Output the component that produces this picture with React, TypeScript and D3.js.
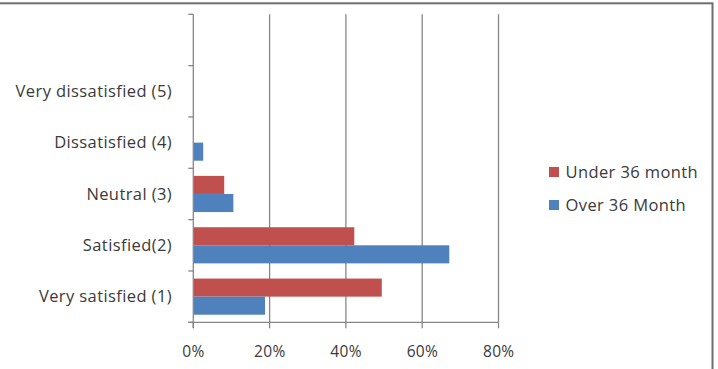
import React from "react";
import * as d3 from "d3";

const categories = ["", "Very dissatisfied (5)", "Dissatisfied (4)", "Neutral (3)", "Satisfied(2)", "Very satisfied (1)"];
const seriesNames = ["Under 36 month", "Over 36 Month"];
const under36 = [null, 0, 0, 8.1, 42.2, 49.4];
const over36 = [null, 0, 2.6, 10.5, 67.1, 18.8];
const xTicks = [0, 20, 40, 60, 80];
const colors = ["#C0504D", "#4F81BD"];

export default function App() {
  const W = 718, H = 369;
  const x = d3.scaleLinear().domain([0, 80]).range([193.3, 498.5]);
  const y = d3.scaleBand().domain(categories).range([14.3, 322.3]).paddingInner(0).paddingOuter(0);
  const sub = d3.scaleBand().domain(seriesNames).range([0, y.bandwidth()]).paddingOuter(0.42).paddingInner(0);
  const series = [under36, over36];
  const font = "'Open Sans', sans-serif";
  const grey = "#868686";
  const txt = "#3a3a3a";
  return (
    <svg width={W} height={H} style={{ position: "absolute", left: 0, top: 0, background: "#fff" }}>
      <rect x={-3} y={3.3} width={715.5} height={380} fill="#fff" stroke="#6e6e6e" strokeWidth={2} />
      {xTicks.slice(1).map((t) => (
        <line key={t} x1={x(t)} x2={x(t)} y1={y.range()[0]} y2={y.range()[1]} stroke={grey} strokeWidth={1.3} />
      ))}
      {categories.map((c, i) => (
        <g key={i}>
          {series.map((s, j) => {
            const v = s[i];
            if (v == null || v <= 0) return null;
            return (
              <rect key={j} x={x(0)} y={(y(c) as number) + (sub(seriesNames[j]) as number)} width={x(v) - x(0)} height={sub.bandwidth()} fill={colors[j]} />
            );
          })}
        </g>
      ))}
      <line x1={x(0)} x2={x(0)} y1={y.range()[0]} y2={y.range()[1] + 6} stroke={grey} strokeWidth={1.3} />
      {[...categories.map((c) => y(c) as number), y.range()[1]].map((v, i) => (
        <line key={i} x1={x(0) - 5} x2={x(0)} y1={v} y2={v} stroke={grey} strokeWidth={1.3} />
      ))}
      <line x1={x(0) - 5} x2={x(80)} y1={y.range()[1]} y2={y.range()[1]} stroke={grey} strokeWidth={1.3} />
      {xTicks.map((t) => (
        <g key={t}>
          <line x1={x(t)} x2={x(t)} y1={y.range()[1]} y2={y.range()[1] + 6} stroke={grey} strokeWidth={1.3} />
          <text x={x(t) + 0.2} y={351.7} dy="0.35em" textAnchor="middle" fontFamily={font} fontSize={15.5} letterSpacing={0.3} fill={txt}>{t}%</text>
        </g>
      ))}
      {categories.map((c, i) => (
        <text key={i} x={172} y={(y(c) as number) + y.bandwidth() / 2} dy="0.35em" textAnchor="end" fontFamily={font} fontSize={16.5} letterSpacing={0.4} fill={txt}>{c}</text>
      ))}
      {seriesNames.map((n, j) => (
        <g key={n} transform={`translate(549,${172 + j * 33})`}>
          <rect x={0} y={-5} width={10} height={10} fill={colors[j]} />
          <text x={16.5} y={0} dy="0.35em" fontFamily={font} fontSize={16.5} letterSpacing={0.4} fill={txt}>{n}</text>
        </g>
      ))}
    </svg>
  );
}
